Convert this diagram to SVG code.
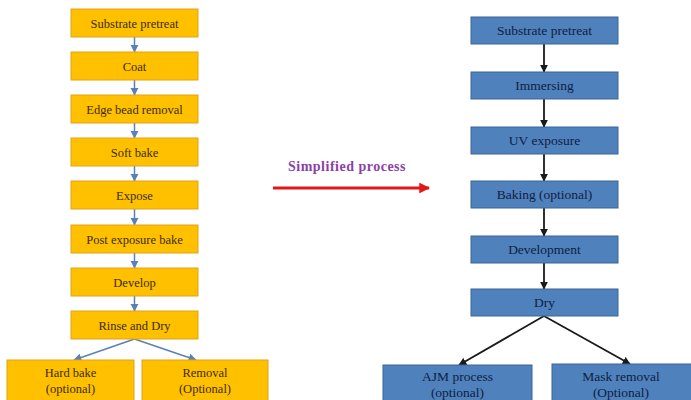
<svg xmlns="http://www.w3.org/2000/svg" width="691" height="400" viewBox="0 0 691 400">
<style>
.o{fill:#FFC000;stroke:#E3A21A;stroke-width:1}
.b{fill:#4F81BD;stroke:#3A6595;stroke-width:1}
.to{font-family:"Liberation Serif",serif;font-size:12.5px;fill:#3B2C05;text-anchor:middle}
.tb{font-family:"Liberation Serif",serif;font-size:13.5px;fill:#10203F;text-anchor:middle}
.lc{stroke:#5A80B8;stroke-width:1.5;fill:none}
.rc{stroke:#1A1A1A;stroke-width:1.8;fill:none}
</style>
<defs>
<marker id="ab" viewBox="0 0 10 10" refX="9" refY="5" markerWidth="5.5" markerHeight="5.5" orient="auto"><path d="M0,0L10,5L0,10z" fill="#5A80B8"/></marker>
<marker id="ak" viewBox="0 0 10 10" refX="9" refY="5" markerWidth="4.5" markerHeight="4.5" orient="auto"><path d="M0,0L10,5L0,10z" fill="#1A1A1A"/></marker>
<marker id="ar" viewBox="0 0 10 10" refX="9" refY="5" markerWidth="3.6" markerHeight="3.6" orient="auto"><path d="M0,0L10,5L0,10z" fill="#E01818"/></marker>
</defs>
<rect width="691" height="400" fill="#fff"/>
<g id="connectors">
<path class="lc" marker-end="url(#ab)" d="M134.5,37V52"/>
<path class="lc" marker-end="url(#ab)" d="M134.5,80V95"/>
<path class="lc" marker-end="url(#ab)" d="M134.5,123V138"/>
<path class="lc" marker-end="url(#ab)" d="M134.5,166V181"/>
<path class="lc" marker-end="url(#ab)" d="M134.5,209V225"/>
<path class="lc" marker-end="url(#ab)" d="M134.5,253V268"/>
<path class="lc" marker-end="url(#ab)" d="M134.5,296V311"/>
<path class="lc" marker-end="url(#ab)" d="M134.5,339L74,360"/>
<path class="lc" marker-end="url(#ab)" d="M134.5,339L196,360"/>
<path class="rc" marker-end="url(#ak)" d="M544,44V72"/>
<path class="rc" marker-end="url(#ak)" d="M544,99V127"/>
<path class="rc" marker-end="url(#ak)" d="M544,154V181"/>
<path class="rc" marker-end="url(#ak)" d="M544,208V236"/>
<path class="rc" marker-end="url(#ak)" d="M544,263V289"/>
<path class="rc" marker-end="url(#ak)" d="M544,316L459,365"/>
<path class="rc" marker-end="url(#ak)" d="M544,316L630,364"/>
<path d="M273,188H429" stroke="#E01818" stroke-width="3" marker-end="url(#ar)" fill="none"/>
<text x="347" y="171" font-family="Liberation Serif,serif" font-size="14" font-weight="bold" fill="#8B3FA8" text-anchor="middle" letter-spacing="0.5">Simplified process</text>
</g>
<g id="l1"><rect class="o" x="71" y="9" width="127" height="28"/><text class="to" x="134.5" y="27.5">Substrate pretreat</text></g>
<g id="l2"><rect class="o" x="71" y="52" width="127" height="28"/><text class="to" x="134.5" y="70.5">Coat</text></g>
<g id="l3"><rect class="o" x="71" y="95" width="127" height="28"/><text class="to" x="134.5" y="113.5">Edge bead removal</text></g>
<g id="l4"><rect class="o" x="71" y="138" width="127" height="28"/><text class="to" x="134.5" y="156.5">Soft bake</text></g>
<g id="l5"><rect class="o" x="71" y="181" width="127" height="28"/><text class="to" x="134.5" y="199.5">Expose</text></g>
<g id="l6"><rect class="o" x="71" y="225" width="127" height="28"/><text class="to" x="134.5" y="243.5">Post exposure bake</text></g>
<g id="l7"><rect class="o" x="71" y="268" width="127" height="28"/><text class="to" x="134.5" y="286.5">Develop</text></g>
<g id="l8"><rect class="o" x="71" y="311" width="127" height="28"/><text class="to" x="134.5" y="329.5">Rinse and Dry</text></g>
<g id="l9"><rect class="o" x="7" y="360" width="127" height="50"/><text class="to" x="70.5" y="377">Hard bake</text><text class="to" x="70.5" y="393">(optional)</text></g>
<g id="l10"><rect class="o" x="142" y="360" width="126" height="50"/><text class="to" x="205" y="377">Removal</text><text class="to" x="205" y="393">(Optional)</text></g>
<g id="r1"><rect class="b" x="471" y="17" width="147" height="27"/><text class="tb" x="544.5" y="35">Substrate pretreat</text></g>
<g id="r2"><rect class="b" x="471" y="72" width="147" height="27"/><text class="tb" x="544.5" y="90">Immersing</text></g>
<g id="r3"><rect class="b" x="471" y="127" width="147" height="27"/><text class="tb" x="544.5" y="145">UV exposure</text></g>
<g id="r4"><rect class="b" x="471" y="181" width="147" height="27"/><text class="tb" x="544.5" y="199">Baking (optional)</text></g>
<g id="r5"><rect class="b" x="471" y="236" width="147" height="27"/><text class="tb" x="544.5" y="254">Development</text></g>
<g id="r6"><rect class="b" x="471" y="289" width="147" height="27"/><text class="tb" x="544.5" y="307">Dry</text></g>
<g id="r7"><rect class="b" x="383" y="365" width="149" height="45"/><text class="tb" x="457.5" y="381">AJM  process</text><text class="tb" x="457.5" y="397">(optional)</text></g>
<g id="r8"><rect class="b" x="552" y="364" width="145" height="45"/><text class="tb" x="621" y="381">Mask removal</text><text class="tb" x="621" y="397">(Optional)</text></g>
</svg>
